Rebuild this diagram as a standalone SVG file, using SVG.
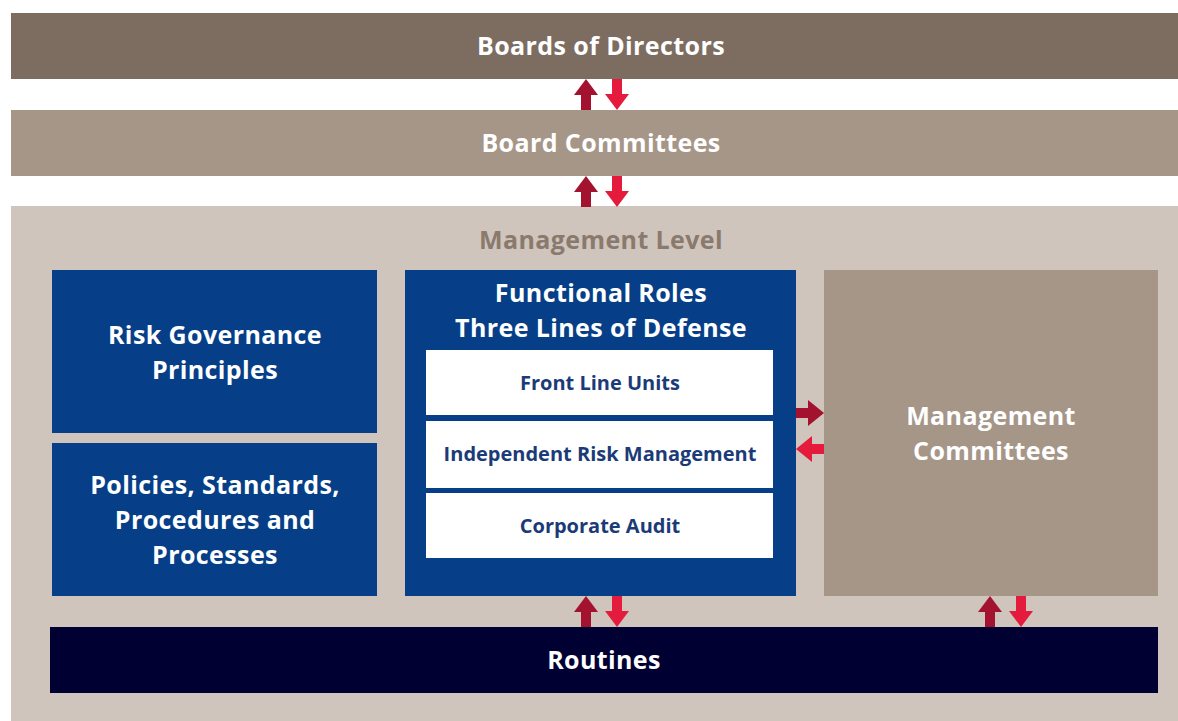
<svg xmlns="http://www.w3.org/2000/svg" width="1178" height="721" viewBox="0 0 1178 721">
<defs>
<style>
.t{font-family:"Open Sans","Liberation Sans",sans-serif;font-weight:bold;text-anchor:middle;}
.w{fill:#ffffff;}
.big{font-size:25px;letter-spacing:0.4px;}
.sm{font-size:20px;fill:#1b3b78;}
.up{fill:#a3122e;}
.dn{fill:#e41b3c;}
</style>
<path id="au" d="M0,0 L12,16 L5,16 L5,31 L-5,31 L-5,16 L-12,16 Z"/>
<path id="ad" d="M0,31 L12,15 L5,15 L5,0 L-5,0 L-5,15 L-12,15 Z"/>
<path id="ar" d="M28,0 L12,-13 L12,-5 L0,-5 L0,5 L12,5 L12,13 Z"/>
<path id="al" d="M0,0 L16,-13 L16,-5 L28,-5 L28,5 L16,5 L16,13 Z"/>
</defs>
<rect width="1178" height="721" fill="#ffffff"/>
<g id="board-directors">
<rect x="11" y="13" width="1167" height="66" fill="#7d6d61"/>
<text class="t w big" x="601" y="55">Boards of Directors</text>
</g>
<g id="board-committees">
<rect x="11" y="110" width="1167" height="66" fill="#a69688"/>
<text class="t w big" x="601" y="152">Board Committees</text>
</g>
<g id="management-level">
<rect x="11" y="206" width="1167" height="515" fill="#cfc5bc"/>
<text class="t big" x="601" y="249" fill="#8a7a6e">Management Level</text>
</g>
<g id="risk-governance">
<rect x="52" y="270" width="325" height="163" fill="#063f87"/>
<text class="t w big" x="215" y="344">Risk Governance</text>
<text class="t w big" x="215" y="379">Principles</text>
</g>
<g id="policies">
<rect x="52" y="443" width="325" height="153" fill="#063f87"/>
<text class="t w big" x="215" y="494">Policies, Standards,</text>
<text class="t w big" x="215" y="529">Procedures and</text>
<text class="t w big" x="215" y="564">Processes</text>
</g>
<g id="functional-roles">
<rect x="405" y="270" width="391" height="326" fill="#063f87"/>
<text class="t w big" x="601" y="302">Functional Roles</text>
<text class="t w big" x="601" y="337">Three Lines of Defense</text>
</g>
<g id="front-line">
<rect x="426" y="350" width="347" height="65" fill="#ffffff"/>
<text class="t sm" x="600" y="390">Front Line Units</text>
</g>
<g id="independent-risk">
<rect x="426" y="421" width="347" height="67" fill="#ffffff"/>
<text class="t sm" x="600" y="461">Independent Risk Management</text>
</g>
<g id="corporate-audit">
<rect x="426" y="493" width="347" height="65" fill="#ffffff"/>
<text class="t sm" x="600" y="533">Corporate Audit</text>
</g>
<g id="management-committees">
<rect x="824" y="270" width="334" height="326" fill="#a69688"/>
<text class="t w big" x="991" y="425">Management</text>
<text class="t w big" x="991" y="460">Committees</text>
</g>
<g id="routines">
<rect x="50" y="627" width="1108" height="66" fill="#000033"/>
<text class="t w big" x="604" y="669">Routines</text>
</g>
<g id="connectors">
<use href="#au" class="up" x="586" y="79"/>
<use href="#ad" class="dn" x="617" y="79"/>
<use href="#au" class="up" x="586" y="176"/>
<use href="#ad" class="dn" x="617" y="176"/>
<use href="#au" class="up" x="586" y="596"/>
<use href="#ad" class="dn" x="617" y="596"/>
<use href="#au" class="up" x="990" y="596"/>
<use href="#ad" class="dn" x="1021" y="596"/>
<use href="#ar" class="up" x="796" y="413"/>
<use href="#al" class="dn" x="796" y="449"/>
</g>
</svg>
